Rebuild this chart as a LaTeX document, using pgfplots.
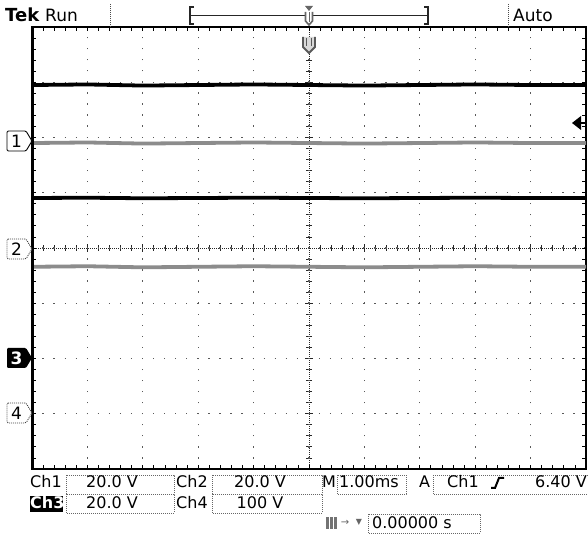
\documentclass[border=0pt]{standalone}
\usepackage{pgfplots}
\pgfplotsset{compat=1.18}
\usepackage{fontspec}
\setmainfont{DejaVu Sans}
\newcommand\fs[1]{\fontsize{#1bp}{#1bp}\selectfont}
\begin{document}
\begin{tikzpicture}
\path[use as bounding box] (0,0) rectangle (588bp,534bp);
% centre crosshair with its small ticks
\begin{axis}[at={(32bp,65bp)}, anchor=south west, scale only axis,
  width=554bp, height=442bp,
  xmin=-5, xmax=5, ymin=-4, ymax=4,
  axis lines=middle,
  axis line style={-, black!85, line width=0.9bp, dash pattern=on 1bp off 1bp},
  xtick={-5,...,5}, ytick={-4,...,4}, minor x tick num=4, minor y tick num=4,
  xticklabels={}, yticklabels={},
  tick align=center, major tick length=8bp, minor tick length=6bp,
  tick style={black!85, line width=0.8bp}]
\end{axis}
% main graticule and traces
\begin{axis}[at={(32bp,65bp)}, anchor=south west, scale only axis,
  width=554bp, height=442bp,
  xmin=-5, xmax=5, ymin=-4, ymax=4,
  xtick={-5,...,5}, ytick={-4,...,4}, minor x tick num=4, minor y tick num=4,
  xticklabels={}, yticklabels={},
  tick align=inside, major tick length=4bp, minor tick length=4bp,
  tick style={black, line width=0.8bp},
  xmajorgrids, ymajorgrids,
  major grid style={black!65, line width=1.3bp, dash pattern=on 1.3bp off 9.76bp, dash phase=0.65bp},
  axis line style={black, line width=2.2bp}]
\addplot[black, line width=3.8bp] coordinates {(-5,2.95) (-4,2.96) (-3,2.94) (-2,2.95) (-1,2.96) (0,2.95) (1,2.94) (2,2.95) (3,2.96) (4,2.95) (5,2.95)};
\addplot[black!45, line width=3.8bp] coordinates {(-5,1.90) (-4,1.91) (-3,1.89) (-2,1.90) (-1,1.91) (0,1.90) (1,1.89) (2,1.90) (3,1.91) (4,1.90) (5,1.90)};
\addplot[black, line width=3.8bp] coordinates {(-5,0.905) (-4,0.91) (-3,0.90) (-2,0.905) (-1,0.91) (0,0.905) (1,0.90) (2,0.905) (3,0.91) (4,0.905) (5,0.905)};
\addplot[black!45, line width=3.8bp] coordinates {(-5,-0.34) (-4,-0.33) (-3,-0.35) (-2,-0.34) (-1,-0.33) (0,-0.34) (1,-0.35) (2,-0.34) (3,-0.33) (4,-0.34) (5,-0.34)};
\end{axis}
% annotations in pixel coordinates (origin top-left)
\begin{scope}[x=1bp, y=-1bp, yshift=534bp]
  \draw[black, line width=3bp] (32,27) -- (32,469);
  % top bar
  \node[anchor=base west, inner sep=0] at (5,22) {\fs{18}\bfseries Tek};
  \node[anchor=base west, inner sep=0] at (45,22) {\fs{17}Run};
  \draw[black!70, line width=1bp, dash pattern=on 1bp off 1bp] (110,4) -- (110,27);
  \draw[black!70, line width=1bp, dash pattern=on 1bp off 1bp] (508,4) -- (508,27);
  \node[anchor=base west, inner sep=0] at (513,22) {\fs{17}Auto};
  \draw[black!85, line width=1.2bp] (194,7) -- (190,7) -- (190,24) -- (194,24);
  \draw[black!85, line width=1.2bp] (424,7) -- (428,7) -- (428,24) -- (424,24);
  \draw[black!85, line width=1.2bp] (190,15.5) -- (428,15.5);
  \fill[black!60] (305,6) -- (313,6) -- (309,11) -- cycle;
  \draw[black!60, line width=1.6bp, fill=white] (305.5,12) -- (305.5,21) -- (309,25) -- (312.5,21) -- (312.5,12);
  \draw[black!60, line width=1bp] (309,12) -- (309,22);
  % trigger position marker under the top edge
  \draw[black!65, line width=1.8bp, fill=black!15] (303,37) -- (303,47) -- (309,53) -- (315,47) -- (315,37);
  \draw[black!65, line width=1.2bp] (306.5,38) -- (306.5,46);
  \draw[black!65, line width=1.2bp] (311.5,38) -- (311.5,46);
  % channel markers on the left
  \draw[black, line width=0.9bp, rounded corners=1.2bp, fill=white] (7,131) -- (26,131) -- (32,141) -- (26,151) -- (7,151) -- cycle;
  \node[inner sep=0] at (16.5,141) {\fs{17}1};
  \draw[black!75, line width=0.9bp, dash pattern=on 1bp off 1bp, rounded corners=1.2bp, fill=white] (7,239) -- (26,239) -- (32,249) -- (26,259) -- (7,259) -- cycle;
  \node[inner sep=0] at (16.5,249) {\fs{17}2};
  \fill[black, rounded corners=1.2bp] (7,348) -- (26,348) -- (32,358) -- (26,368) -- (7,368) -- cycle;
  \node[inner sep=0, text=white] at (16.5,358) {\fs{17}\bfseries 3};
  \draw[black!75, line width=0.9bp, dash pattern=on 1bp off 1bp, rounded corners=1.2bp, fill=white] (7,403) -- (26,403) -- (32,413) -- (26,423) -- (7,423) -- cycle;
  \node[inner sep=0] at (16.5,413) {\fs{17}4};
  % trigger level arrow on the right
  \fill[black] (572,123) -- (581,116) -- (581,130) -- cycle;
  \draw[black, line width=1.8bp] (579,123) -- (586,123);
  % readout boxes
  \tikzset{rb/.style={black!60, line width=0.9bp, dash pattern=on 1bp off 1bp}}
  \draw[rb] (66,475) rectangle (174,494);
  \draw[rb] (212,475) rectangle (322,494);
  \draw[rb] (337,475) rectangle (406,494);
  \draw[rb] (433,475) -- (588,475);
  \draw[rb] (433,475) -- (433,494) -- (588,494);
  \draw[rb] (66,494) rectangle (174,513);
  \draw[rb] (212,494) rectangle (322,513);
  \draw[rb] (368,514) rectangle (480,533);
  % row 1
  \node[anchor=base west, inner sep=0] at (30,488) {\fs{16}Ch1};
  \node[anchor=base, inner sep=0] at (112,488) {\fs{16}20.0 V};
  \node[anchor=base west, inner sep=0] at (176,488) {\fs{16}Ch2};
  \node[anchor=base, inner sep=0] at (260,488) {\fs{16}20.0 V};
  \node[anchor=base west, inner sep=0] at (322,488) {\fs{16}M};
  \node[anchor=base west, inner sep=0] at (339,488) {\fs{16}1.00ms};
  \node[anchor=base west, inner sep=0] at (419,488) {\fs{16}A};
  \node[anchor=base west, inner sep=0] at (447,488) {\fs{16}Ch1};
  \draw[black, line width=2bp] (491,488) -- (495,488) -- (499,478) -- (504,478);
  \node[anchor=base east, inner sep=0] at (587,488) {\fs{16}6.40 V};
  % row 2
  \fill[black] (30,496) rectangle (63,512);
  \node[anchor=base west, inner sep=0, text=white] at (30,509) {\fs{16}\bfseries Ch3};
  \node[anchor=base, inner sep=0] at (112,509) {\fs{16}20.0 V};
  \node[anchor=base west, inner sep=0] at (176,509) {\fs{16}Ch4};
  \node[anchor=base, inner sep=0] at (260,509) {\fs{16}100 V};
  % row 3
  \fill[black!55] (326,517) rectangle (337,529);
  \draw[white, line width=0.8bp] (329.5,517) -- (329.5,529) (333.5,517) -- (333.5,529);
  \node[inner sep=0, text=black!60] at (345,523) {\fs{10}→};
  \node[inner sep=0, text=black!60] at (359,522) {\fs{8}▼};
  \node[anchor=base west, inner sep=0] at (372,529) {\fs{16}0.00000 s};
\end{scope}
\end{tikzpicture}
\end{document}
